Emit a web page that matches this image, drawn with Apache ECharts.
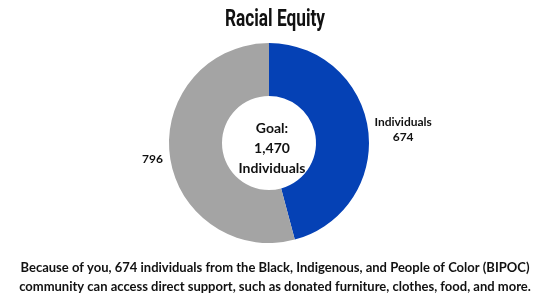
<!DOCTYPE html>
<html><head><meta charset="utf-8">
<script src="https://cdn.jsdelivr.net/npm/echarts@6/dist/echarts.min.js"></script>
<style>html,body{margin:0;padding:0;background:#fff}#c{width:550px;height:300px}</style>
</head><body><div id="c"></div>
<script>
const categories = ['Individuals', ''];
const values = [674, 796];
const colors = ['#0541b5', '#a4a4a4'];
const titleText = 'Racial Equity';
const centerText = 'Goal:\n1,470\nIndividuals';
const footText = 'Because of you, 674 individuals from the Black, Indigenous, and People of Color (BIPOC)\ncommunity can access direct support, such as donated furniture, clothes, food, and more.';

const chart = echarts.init(document.getElementById('c'));
chart.setOption({
  animation: false,
  graphic: [{
    type: 'text', x: 275, y: 20, scaleX: 0.72, silent: true,
    style: { text: titleText, font: 'bold 24px Roboto', fill: '#111', align: 'center', verticalAlign: 'middle' }
  }],
  title: [
    { text: centerText, left: 267, top: 113, textAlign: 'center',
      textStyle: { fontFamily: 'Lato', fontWeight: 'bold', fontSize: 14, lineHeight: 20, color: '#111', align: 'center' } },
    { text: footText, left: 'center', top: 253,
      textStyle: { fontFamily: 'Lato', fontWeight: 'bold', fontSize: 13, lineHeight: 19, color: '#111', align: 'center' } }
  ],
  series: [{
    type: 'pie',
    center: [269, 143],
    radius: [47, 100],
    startAngle: 90,
    clockwise: true,
    silent: true,
    data: categories.map((n, i) => ({ name: n, value: values[i], itemStyle: { color: colors[i] } })),
    label: {
      show: true, position: 'outside',
      formatter: p => p.name ? '{a|' + p.name + '}\n{a|' + p.value + '}' : '{b|' + p.value + '}',
      rich: {
        a: { fontFamily: 'Lato', fontWeight: 'bold', fontSize: 12, lineHeight: 15, color: '#111', width: 56, align: 'center' },
        b: { fontFamily: 'Lato', fontWeight: 'bold', fontSize: 12, lineHeight: 15, color: '#111', padding: [6, 0, 0, 0] }
      }
    },
    labelLine: { show: false, length: 2, length2: 0 }
  }]
});
</script></body></html>
